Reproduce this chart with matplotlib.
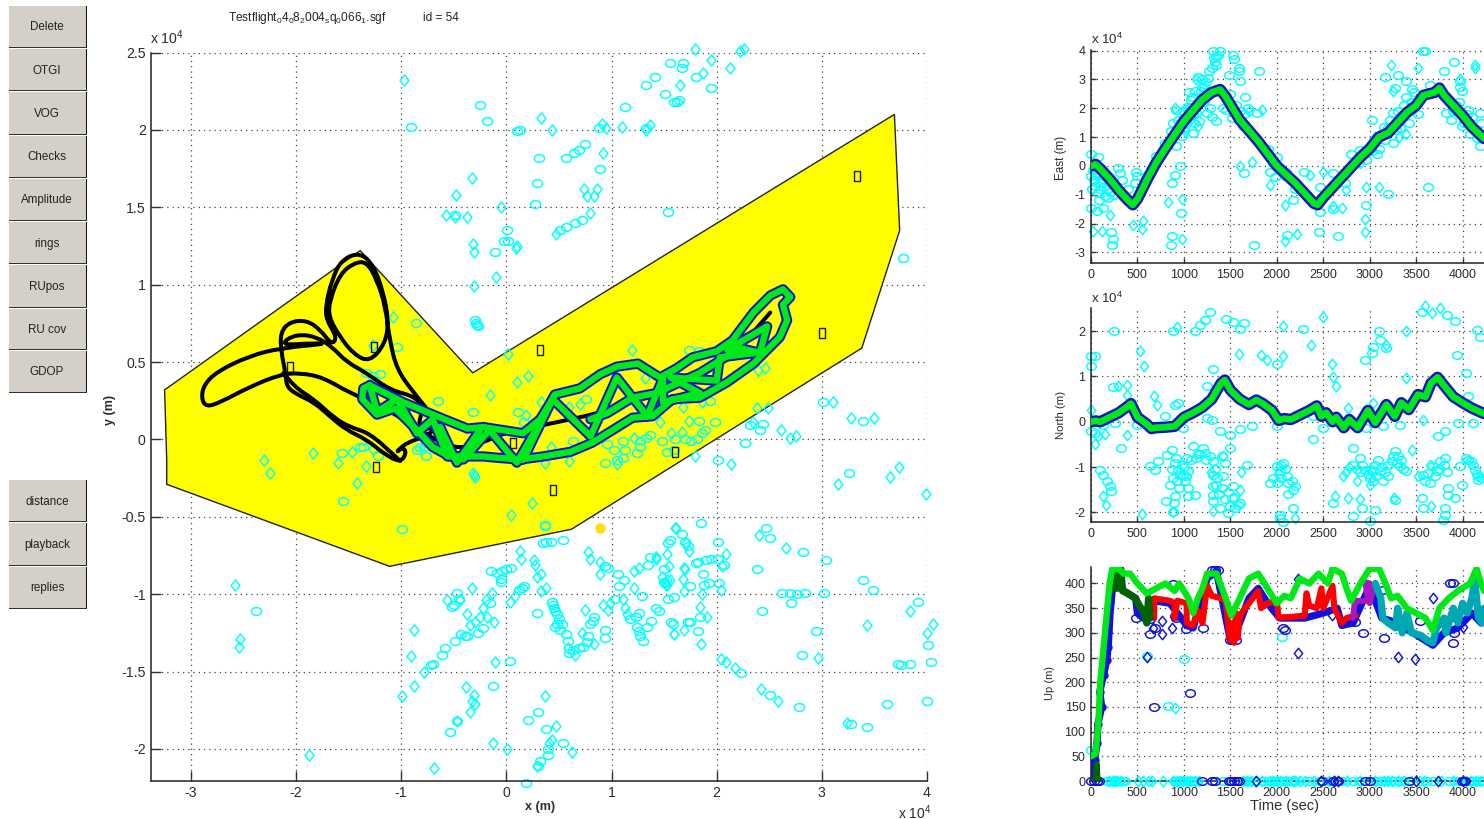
import matplotlib
matplotlib.use('Agg')
import matplotlib.pyplot as plt
from matplotlib.patches import Rectangle, Polygon, PathPatch
from matplotlib.path import Path

plt.rcParams['font.family'] = ['Liberation Sans', 'DejaVu Sans']
plt.rcParams['mathtext.fontset'] = 'custom'
plt.rcParams['mathtext.rm'] = 'Liberation Sans'
plt.rcParams['mathtext.it'] = 'Liberation Sans'
plt.rcParams['mathtext.bf'] = 'Liberation Sans:bold'

# ------------------------------------------------------------ text
title_file = r'Testflight$_{0}$4$_{0}$8$_{2}$004$_{s}$q$_{0}$066$_{1}$.sgf'
title_id = 'id = 54'
buttons_top = ['Delete', 'OTGI', 'VOG', 'Checks', 'Amplitude', 'rings', 'RUpos', 'RU cov', 'GDOP']
buttons_bottom = ['distance', 'playback', 'replies']

# ------------------------------------------------------------ map data (units of 1e4 m)
region_x = [-3.25, -1.39, -0.32, 3.69, 3.74, 3.38, 0.62, -1.11, -3.23, -3.23]
region_y = [0.32, 1.22, 0.43, 2.10, 1.35, 0.59, -0.58, -0.82, -0.29, -0.13]

ru_x = [3.33, 3.00, 0.32, -1.26, -2.06, -1.24, 0.44, 1.60, 0.06]
ru_y = [1.70, 0.69, 0.58, 0.60, 0.47, -0.18, -0.33, -0.08, -0.02]

target_x = [0.89]
target_y = [-0.57]

map_circles = [
    (-0.99,-0.58),(0.37,-0.55),(0.35,-0.67),(0.38,-0.66),(0.42,-0.66),(0.54,-0.65),(-0.15,-0.85),(-0.09,-0.86),
    (-0.04,-0.85),(0.0,-0.84),(0.04,-0.83),(-0.05,-0.90),(-0.05,-0.92),(0.12,-0.97),(0.15,-0.96),(0.17,-0.95),
    (-0.47,-0.99),(-0.45,-1.03),(-0.50,-1.07),(-0.52,-1.08),(-0.16,-1.06),(-0.22,-1.22),(-0.27,-1.25),(-0.37,-1.27),
    (-0.39,-1.27),(-0.43,-1.26),(-0.49,-1.30),(-0.58,-1.35),(-0.61,-1.39),(-0.70,-1.45),(-0.72,-1.46),(0.29,-1.12),
    (0.43,-1.05),(0.44,-1.07),(0.45,-1.09),(0.46,-1.11),(0.48,-1.13),(0.50,-1.16),(0.48,-1.19),(0.53,-1.19),
    (0.46,-1.21),(0.51,-1.23),(0.57,-1.26),(0.59,-1.30),(0.60,-1.38),(0.63,-1.36),(0.69,-1.35),(0.73,-1.34),
    (0.78,-1.27),(0.77,-1.31),(0.80,-1.19),(0.82,-1.17),(0.83,-1.15),(0.94,-1.23),(0.94,-1.28),(0.03,-1.43),
    (-0.13,-1.59),(0.30,-1.76),(0.21,-1.81),(0.38,-1.87),(-0.54,-1.89),(0.54,-1.96),(0.40,-2.0),(0.40,-2.04),
    (0.32,-2.08),(0.30,-2.11),(0.19,-2.22),(-0.47,-1.82),(0.94,-0.82),(0.97,-0.83),(1.06,-0.87),(1.07,-0.95),
    (1.12,-0.91),(1.29,-1.01),(1.03,-1.03),(1.35,-0.81),(1.37,-0.76),(1.54,-0.67),(1.56,-0.65),(1.67,-0.61),
    (1.70,-0.66),(1.73,-0.69),(1.18,-1.16),(1.23,-1.15),(1.26,-1.12),(1.24,-1.21),(1.26,-1.24),(1.27,-1.27),
    (1.30,-1.30),(1.34,-1.21),(1.38,-1.17),(1.42,-1.09),(1.45,-1.11),(1.57,-1.18),(1.58,-1.19),(1.50,-0.84),
    (1.50,-0.92),(1.51,-0.93),(1.54,-1.03),(1.59,-1.02),(1.73,-1.18),(1.85,-0.54),(2.47,-0.57),(2.51,-0.64),
    (2.82,-0.73),(3.04,-0.78),(2.01,-0.66),(2.38,-0.84),(1.80,-0.80),(1.82,-0.79),(1.90,-0.78),(1.95,-0.77),
    (2.01,-0.77),(2.07,-0.81),(1.87,-0.87),(1.75,-0.95),(1.88,-0.94),(1.93,-0.93),(2.02,-0.93),(2.62,-0.99),
    (2.70,-0.99),(2.76,-1.0),(2.84,-0.99),(3.02,-0.99),(2.71,-1.06),(2.43,-1.11),(3.39,-0.91),(3.49,-0.97),
    (3.91,-1.05),(2.94,-1.24),(2.81,-1.39),(3.72,-1.45),(3.75,-1.46),(3.84,-1.45),(4.04,-1.44),(4.01,-1.33),
    (4.0,-1.69),(3.62,-1.71),(3.28,-1.84),(3.43,-1.86),(2.51,-1.65),(2.78,-1.73),(2.23,-1.51),(1.84,-1.15),
    (1.75,-1.18),(1.82,-1.24),(-0.91,2.02),(-0.25,2.16),(-0.18,2.06),(0.10,1.99),(0.13,2.0),(0.31,1.82),
    (0.57,1.82),(0.64,1.85),(0.69,1.87),(0.75,1.91),(0.88,2.01),(0.89,1.75),(1.13,2.15),(0.29,1.66),
    (0.27,1.52),(-0.49,1.45),(0.01,1.35),(0.02,1.28),(-0.11,1.21),(0.51,1.35),(0.57,1.37),(0.65,1.40),
    (0.72,1.42),(1.33,2.01),(1.33,2.29),(1.41,2.34),(1.51,2.23),(1.56,2.43),(1.68,2.43),(1.67,2.40),
    (1.80,2.34),(1.95,2.27),(1.59,2.18),(1.62,2.18),(1.64,2.19),(1.54,1.47),(-2.38,-1.11),(-0.30,0.77),
    (-0.29,0.75),(-0.28,0.74),(-0.27,0.73),(-0.02,1.28),(-0.86,0.75),(-1.04,0.60),(-0.65,0.25),(-0.32,0.18),
    (0.11,0.18),(0.17,0.11),(-1.56,-0.09),(-1.39,-0.05),(-1.36,-0.05),(-1.22,-0.11),(-1.55,-0.40),(0.37,-0.56),
    (-0.82,-0.05),(-0.78,-0.05),(-0.76,-0.11),(-0.85,-0.07),(-0.76,-0.02),(-1.33,0.43),(-1.27,0.41),(-1.20,0.42),
    (1.74,0.58),(1.83,0.57),(1.83,0.12),(1.98,0.11),(1.89,0.06),(1.86,0.04),(2.32,0.09),(2.44,0.10),
    (2.41,0.06),(2.27,-0.02),(2.01,-0.13),(1.37,0.03),(1.33,0.01),(1.48,-0.01),(1.27,-0.01),(1.11,-0.01),
    (0.96,-0.03),(1.02,-0.07),(1.13,-0.07),(1.05,-0.13),(1.11,-0.12),(0.94,-0.15),(1.24,-0.09),(1.27,-0.05),
    (1.70,0.0),(1.76,-0.01),(1.81,0.0),(1.60,0.0),(1.53,-0.08),(1.59,-0.07),(1.94,0.25),(0.76,0.26),
    (0.63,-0.01),(3.01,0.24),(3.39,0.12),(3.26,-0.22),(3.77,1.17),
]
map_diamonds = [
    (0.13,-0.72),(0.14,-0.77),(0.26,-0.78),(0.27,-0.81),(0.29,-0.89),(0.33,-0.87),(0.38,-0.96),(0.33,-0.98),
    (-0.33,-0.96),(-0.14,-0.99),(-0.19,-1.04),(-0.22,-1.09),(-0.56,-1.04),(-0.44,-1.04),(0.03,-1.05),(0.08,-1.01),
    (-0.37,-1.13),(-0.18,-1.15),(-0.25,-1.15),(-0.30,-1.18),(-0.35,-1.20),(-0.12,-1.18),(-0.88,-1.23),(-0.91,-1.40),
    (-0.78,-1.50),(-0.88,-1.59),(-0.99,-1.66),(-0.38,-1.60),(-0.31,-1.65),(-0.33,-1.69),(-0.30,-1.71),(-0.35,-1.76),
    (-0.47,-1.82),(-0.11,-1.44),(-0.13,-1.96),(0.01,-2.0),(-0.69,-2.12),(0.37,-1.66),(0.47,-1.85),(0.43,-1.94),
    (0.41,-1.96),(0.62,-2.02),(0.29,-2.11),(0.75,-1.10),(0.78,-0.73),(0.80,-0.77),(0.89,-0.79),(0.89,-0.87),
    (0.92,-1.07),(0.99,-1.06),(0.97,-1.10),(1.11,-1.03),(1.13,-1.09),(1.15,-1.13),(1.21,-0.96),(1.21,-0.85),
    (1.26,-0.83),(1.42,-0.76),(1.53,-0.74),(1.60,-0.57),(1.69,-0.83),(1.68,-0.90),(1.53,-0.91),(1.53,-0.94),
    (1.59,-1.26),(1.69,-1.23),(0.72,-1.25),(0.83,-1.32),(0.59,-1.35),(0.65,-1.39),(1.69,-0.98),(1.61,-0.57),
    (2.40,-0.62),(2.66,-0.70),(1.71,-0.67),(1.74,-0.72),(2.09,-0.74),(2.05,-0.82),(1.42,-0.77),(1.55,-0.82),
    (1.70,-0.84),(1.48,-0.89),(1.56,-0.91),(1.52,-0.94),(2.04,-0.97),(1.86,-1.0),(1.84,-1.08),(1.91,-1.15),
    (3.84,-1.11),(4.06,-1.19),(4.0,-1.25),(3.43,-1.2),(1.59,-1.26),(1.85,-1.32),(2.04,-1.42),(2.09,-1.44),
    (2.17,-1.48),(2.96,-1.41),(2.42,-1.61),(2.58,-1.69),(3.24,-1.83),(-0.97,2.32),(0.33,2.08),(0.43,2.0),
    (0.91,2.04),(0.95,2.01),(1.10,2.02),(1.37,2.03),(1.33,2.0),(0.92,1.85),(-0.33,1.69),(-0.48,1.58),
    (-0.05,1.50),(-0.57,1.45),(-0.49,1.44),(-0.37,1.44),(0.74,1.62),(0.86,1.62),(0.77,1.57),(0.83,1.57),
    (0.80,1.46),(0.47,1.33),(-0.32,1.26),(-0.31,1.21),(0.09,1.24),(1.79,2.52),(1.95,2.45),(2.13,2.40),
    (2.22,2.51),(2.26,2.52),(1.87,2.37),(1.65,2.29),(-2.58,-0.94),(-2.53,-1.29),(-2.54,-1.34),(-1.88,-2.04),
    (-0.31,0.99),(-0.10,1.05),(0.10,1.25),(-1.08,0.79),(-1.27,0.61),(0.02,0.55),(0.10,0.37),(0.21,0.41),
    (-0.16,0.29),(0.19,0.16),(0.33,0.24),(-1.84,-0.09),(-2.30,-0.13),(-2.25,-0.22),(-1.42,-0.28),(-1.60,-0.15),
    (-1.33,-0.17),(-1.47,-0.08),(-1.27,-0.06),(-0.32,-0.22),(-0.31,-0.23),(-0.30,-0.24),(0.24,-0.41),(0.04,-0.49),
    (1.19,0.58),(1.74,0.12),(2.38,0.20),(2.49,0.20),(2.46,0.46),(2.39,0.45),(2.35,0.11),(2.61,0.06),
    (2.70,0.01),(2.75,0.02),(1.79,-0.11),(1.57,0.04),(1.67,0.05),(1.21,0.01),(1.05,-0.16),(1.46,0.11),
    (1.86,0.24),(1.68,0.21),(1.32,0.40),(0.60,-0.14),(0.37,-0.15),(0.42,-0.05),(0.70,0.23),(0.60,0.21),
    (2.14,-0.16),(3.11,0.24),(3.28,0.14),(3.50,0.14),(3.15,-0.29),(3.65,-0.24),(3.73,-0.18),(3.99,-0.35),
]

track_black_x = [-0.77,-0.88,-1.04,-1.11,-1.15,-1.23,-1.33,-1.45,-1.58,-1.68,-1.69,-1.58,-1.45,-1.30,-1.15,-1.12,-1.17,-1.26,-1.39,-1.57,-1.66,-1.72,-1.71,-1.61,-1.66,-1.77,-1.90,-2.06,-2.15,-2.14,-2.10,-2.09,-1.99,-1.83,-1.68,-1.52,-1.33,-1.17,-1.01,-0.95,-0.98,-1.06,-0.95,-0.76,-0.66,-0.85,-0.79,-0.88,-1.11,-1.33,-1.52,-1.66,-1.80,-1.96,-2.09,-2.12,-1.90,-1.68,-2.15,-2.44,-2.75,-2.88,-2.90,-2.85,-2.72,-2.44,-2.15,-1.96,-1.74,-1.49,-1.23,-0.98,-0.82,-0.63,-0.44,-0.22,-0.03,0.13,0.40,0.68,0.87,1.10,1.60,2.10,2.51]
track_black_y = [0.21,0.30,0.45,0.64,0.86,1.03,1.15,1.14,1.07,0.90,0.79,0.66,0.55,0.50,0.62,0.77,0.95,1.12,1.21,1.16,1.03,0.86,0.77,0.66,0.61,0.71,0.77,0.76,0.69,0.56,0.43,0.34,0.29,0.24,0.15,0.06,0.0,-0.09,-0.15,-0.09,-0.05,-0.09,-0.02,0.02,0.08,0.06,0.21,0.28,0.32,0.43,0.50,0.60,0.66,0.68,0.65,0.61,0.62,0.62,0.59,0.54,0.44,0.35,0.26,0.21,0.24,0.34,0.42,0.43,0.40,0.30,0.23,0.13,0.06,-0.02,-0.06,-0.02,0.04,0.06,0.10,0.14,0.17,0.22,0.33,0.50,0.82]
track_black2_x = [-2.12,-2.02,-1.83,-1.64,-1.49,-1.30,-1.07,-1.01]
track_black2_y = [0.43,0.34,0.26,0.14,0.08,0.04,-0.10,-0.14]

track_green_x = [-1.30,-0.98,-0.66,-0.37,-0.22,-0.03,0.16,0.32,0.42,0.46,0.70,0.89,1.05,1.25,1.46,1.62,1.77,2.0,2.15,2.35,2.51,2.63,2.70,2.63,2.67,2.60,2.35,2.10,1.84,1.58,1.39,1.20,1.01,0.82,0.61,0.35,0.13,-0.06,-0.22,-0.54,-0.70,-0.85,-1.06,-1.23,-1.37,-1.36,-1.30,-1.23,-1.04,-0.85,-0.70,-0.56,-0.63,-0.47,-0.25,-0.41,-0.16,0.10,0.32,0.16,0.44,0.80,1.05,1.34,1.49,1.49,1.84,1.56,2.0,2.03,2.38,2.10,2.48,2.41,2.22,2.03,1.84,1.43,1.20,0.96,0.80]
track_green_y = [0.35,0.24,0.15,0.07,0.08,0.06,0.04,0.13,0.24,0.29,0.33,0.42,0.47,0.49,0.40,0.46,0.53,0.57,0.64,0.82,0.93,0.97,0.92,0.87,0.77,0.66,0.49,0.37,0.27,0.26,0.15,0.14,0.06,-0.02,-0.08,-0.11,-0.13,-0.12,-0.11,-0.11,-0.05,0.06,0.20,0.16,0.26,0.33,0.35,0.18,0.26,0.04,0.13,-0.11,0.08,-0.15,0.06,-0.13,0.06,-0.15,0.11,-0.13,0.26,0.02,0.40,0.15,0.40,0.24,0.30,0.40,0.38,0.53,0.56,0.58,0.73,0.56,0.59,0.51,0.43,0.30,0.27,0.17,0.13]

# ------------------------------------------------------------ east panel (time s, east 1e4 m)
east_t = [0,50,100,200,300,400,450,500,600,700,800,1000,1200,1300,1390,1450,1600,1800,2000,2200,2400,2440,2500,2600,2700,2800,2900,3000,3100,3200,3300,3400,3500,3580,3700,3750,3800,4000,4100,4230]
east_v = [0,0.05,-0.1,-0.45,-0.85,-1.2,-1.35,-1.15,-0.5,0.1,0.6,1.55,2.3,2.55,2.65,2.4,1.6,0.85,0.0,-0.6,-1.3,-1.35,-1.1,-0.75,-0.4,-0.05,0.3,0.6,1.0,1.15,1.5,1.85,2.1,2.45,2.55,2.7,2.45,1.75,1.35,0.95]
east_circles = [
    (0,0.4),(80,0.3),(0,-0.35),(40,-0.7),(100,-0.6),(170,-0.8),(0,-1.45),(60,-1.55),(130,-1.45),(220,-2.3),(235,-2.55),(230,-2.75),
    (295,-0.07),(310,-0.25),(480,-0.2),(490,-0.35),(470,-0.6),(870,-2.42),(860,-2.75),(970,-1.65),(870,-0.6),(960,0.0),(900,-0.3),(705,0.33),
    (800,0.8),(940,1.25),(910,1.95),(940,1.6),(1050,2.55),(1030,2.05),(1135,1.85),(1100,1.15),(1155,3.1),(1200,3.0),(1210,2.3),(1315,3.98),
    (1385,4.0),(1350,3.8),(1300,3.4),(1350,3.5),(1350,1.55),(1525,3.85),(1540,3.7),(1590,3.4),(1590,3.3),(1605,2.95),(1490,3.15),(1810,3.3),
    (1660,2.4),(1515,1.65),(1455,1.95),(1640,1.4),(1690,2.0),(1785,1.85),(1650,-0.25),(1750,-2.75),(1925,-0.2),(1980,-0.4),(1960,0.1),(2090,-0.35),
    (2170,-1.2),(2105,-2.4),(2290,-0.2),(2450,-2.3),(2465,-1.6),(2465,-0.75),(2610,-0.25),(2610,-1.5),(2655,-2.45),(2730,-0.6),(2965,-1.35),(2960,0.2),
    (3020,1.6),(3200,-0.97),(3165,3.1),(3305,3.15),(3270,2.7),(3395,2.95),(3450,2.65),(3395,2.4),(3255,1.85),(3255,0.8),(3630,-0.75),(3575,4.0),
    (3595,3.97),(3800,3.3),(3910,3.6),(3825,1.85),(3970,2.95),(3975,2.75),(3990,2.6),(4185,1.85),(4080,1.1),(4185,0.7),(600,-0.3),(650,-0.1),
    (780,0.55),(850,0.9),(1000,1.3),(1100,1.8),(1150,2.2),(1250,2.55),(1700,1.25),(1900,0.6),(2100,-0.2),(2200,-0.8),(2850,0.2),(2900,0.55),
    (3050,0.9),(3150,1.35),(3350,1.75),(3450,1.95),(3650,2.8),(3850,2.3),(3900,1.9),(4050,1.8),(4150,1.2),(50,-0.3),(100,-0.8),(200,-0.9),
    (250,-1.0),(1080,2.3),(1120,2.6),(1240,2.9),(1280,2.0),(1420,2.0),(1600,1.9),(2000,0.3),(2800,0.4),(3100,0.6),(3200,1.3),(3300,1.9),
    (20,-0.15),(30,-0.5),(60,-0.25),(80,-0.95),(120,-0.45),(140,-0.75),(150,-1.05),(10,-0.8),(90,-1.2),(180,-1.1),(330,-0.5),(400,-0.8),
    (860,1.2),(880,1.5),(920,0.7),(980,1.05),(990,1.9),(1020,1.5),(1060,1.6),(1070,2.05),(1090,2.4),(1110,1.5),(1160,1.55),(1180,2.6),
    (1190,2.75),(1220,2.75),(1260,3.05),(1275,3.3),(1320,3.75),(1340,3.6),(1370,3.85),(1250,1.85),(1300,1.7),(1500,2.5),(1560,2.1),(1650,1.8),
    (3020,0.5),(3080,0.4),(3130,1.1),(3170,0.9),(3220,1.6),(3280,1.25),(3330,1.3),(3370,2.1),(3420,1.5),(3440,2.2),(3480,2.55),(3520,1.8),
    (3880,1.6),(3930,2.1),(3960,2.2),(3990,1.4),(4020,1.5),(4060,1.95),(4100,1.7),(4150,0.95),(4200,1.5),(4210,1.1),
]
east_diamonds = [
    (25,-2.25),(120,-2.25),(205,-1.7),(455,-2.05),(555,-1.9),(545,-2.2),(830,-1.25),(975,-1.15),(975,-2.55),(1845,1.95),(1735,0.15),(1600,0.0),
    (1925,-0.65),(2090,-1.35),(2215,-2.35),(2090,-2.6),(2355,-0.3),(2495,-0.2),(2700,-1.45),(2950,-1.85),(2950,-2.3),(3100,-0.75),(2965,-0.75),(3230,3.5),
    (3255,2.6),(3515,3.4),(4130,3.5),(4130,3.4),(3970,3.0),(3395,1.1),(1130,3.0),(1030,1.95),(900,2.0),(2750,-0.85),(2600,-1.4),(3280,1.6),
    (1010,1.2),(1150,1.4),(1230,2.2),(2900,0.1),(3060,1.0),(3320,1.0),(1700,1.9),(1880,0.4),
]

# ------------------------------------------------------------ north panel (time s, north 1e4 m)
north_t = [0,50,100,200,300,400,430,500,600,650,700,800,900,1000,1100,1200,1300,1400,1440,1500,1600,1700,1780,1850,1950,2020,2080,2150,2250,2350,2430,2480,2530,2600,2640,2720,2780,2870,2980,3060,3180,3270,3340,3420,3520,3600,3660,3730,3800,3900,4000,4100,4230]
north_v = [0,0.02,0.0,0.1,0.2,0.35,0.4,0.1,-0.05,-0.15,-0.13,-0.12,-0.1,0.1,0.2,0.32,0.5,0.85,0.92,0.7,0.5,0.38,0.48,0.4,0.25,0.03,0.07,0.05,0.15,0.25,0.35,0.12,0.2,0.0,0.1,-0.13,0.05,-0.13,0.25,-0.02,0.38,0.12,0.42,0.27,0.6,0.55,0.85,0.98,0.8,0.55,0.42,0.3,0.18]
north_circles = [
    (250,2.0),(885,2.0),(1120,2.0),(1175,2.13),(1225,2.25),(1280,2.41),(1450,2.27),(1525,2.19),(1605,2.05),(1645,2.17),(2285,2.05),(0,1.46),
    (45,1.46),(5,1.22),(240,0.76),(1310,1.17),(2000,1.27),(2950,1.37),(3020,1.51),(3040,1.66),(3100,2.0),(3110,1.8),(3180,1.62),(3935,1.48),
    (3560,2.41),(3830,2.36),(3915,2.22),(4150,2.03),(4185,1.88),(4035,1.07),(4060,0.56),(320,-0.58),(2390,-0.38),(1245,0.78),(95,-1.06),(130,-1.17),
    (170,-1.31),(205,-1.42),(220,-1.53),(635,-0.98),(690,-1.06),(725,-0.87),(815,-0.73),(870,-0.62),(920,-0.80),(975,-0.95),(960,-1.17),(885,-1.24),
    (850,-1.39),(1010,-1.31),(1045,-1.46),(1045,-1.64),(1120,-1.61),(805,-1.74),(905,-1.64),(895,-1.79),(885,-2.0),(1030,-0.8),(1100,-0.54),(1210,-0.58),
    (1225,-0.69),(1280,-0.76),(1135,-0.8),(1315,-0.87),(1415,-0.76),(990,-1.17),(940,-1.06),(1045,-1.09),(1315,-1.17),(1315,-1.42),(1315,-1.61),(1350,-1.39),
    (1405,-1.46),(1530,-1.42),(1515,-1.68),(1495,-1.86),(1480,-2.01),(1605,-1.79),(1585,-1.83),(1315,-1.75),(1390,-1.9),(2000,-0.98),(2070,-0.91),(2035,-1.09),
    (1960,-1.24),(2105,-1.2),(2160,-1.31),(2195,-1.42),(2125,-1.59),(2175,-1.9),(1925,-1.35),(2035,-2.12),(2070,-2.21),(2035,-2.05),(1675,-0.95),(2825,-0.95),
    (2895,-0.8),(2950,-1.06),(3000,-1.24),(3040,-1.31),(3090,-0.84),(3110,-1.09),(3145,-1.31),(3040,-1.09),(3235,-0.87),(3270,-0.65),(3305,-0.76),(3325,-0.98),
    (3395,-1.09),(2825,-0.57),(2825,-2.08),(2915,-1.9),(3055,-1.94),(3000,-2.19),(2610,-1.79),(3270,-1.72),(3575,-1.17),(3630,-1.13),(3685,-0.98),(3755,-0.87),
    (3810,-0.8),(3720,-1.09),(3560,-1.68),(3575,-1.9),(3810,-1.9),(3810,-2.05),(3790,-2.16),(3845,-1.46),(3845,-1.61),(3915,-1.68),(3990,-1.39),(3970,-0.98),
    (4040,-0.8),(4095,-0.87),(4130,-1.06),(4170,-1.2),(4170,-1.28),(3810,-0.21),(3735,-0.32),(0,-0.21),(40,-0.25),(130,-0.07),(260,-0.03),(490,-0.07),
    (795,0.12),(905,0.37),(940,0.41),(990,-0.14),(1245,0.08),(1300,0.04),(1390,-0.21),(1495,-0.29),(1605,-0.15),(1730,-0.1),(2000,-0.1),(2390,0.12),
    (2500,-0.14),(2965,-0.14),(3145,-0.1),(3325,-0.07),(3955,-0.03),(4115,-0.03),(1500,-0.58),(1420,-1.2),(1440,-0.9),(1150,-0.7),(2900,-1.1),(3200,-1.2),
    (870,-1.05),(900,-0.9),(930,-1.3),(950,-1.45),(1000,-1.0),(1025,-1.2),(1080,-0.85),(1170,-0.72),(1240,-0.85),(1340,-1.05),(1360,-1.25),(1380,-1.6),
    (1440,-1.7),(1470,-1.55),(1540,-1.65),(1550,-1.9),(2020,-1.15),(2050,-0.95),(2090,-1.05),(2120,-1.35),(2000,-1.35),(2170,-1.5),(2050,-1.25),(2860,-1.05),
    (2920,-0.95),(2980,-1.15),(3010,-1.05),(3060,-0.95),(3070,-1.2),(3130,-1.0),(3170,-1.1),(3200,-0.95),(3250,-0.75),(3290,-0.9),(3340,-0.85),(3360,-1.05),
    (3600,-1.3),(3650,-1.35),(3700,-1.2),(3750,-1.05),(3800,-0.95),(3830,-1.1),(4060,-0.85),(4110,-0.95),(4150,-1.15),(4200,-1.25),
]
north_diamonds = [
    (525,1.57),(570,1.23),(930,2.08),(1590,1.49),(2070,2.12),(2500,2.32),(2365,1.7),(2590,1.27),(2610,0.98),(2635,0.78),(1835,1.48),(1890,1.37),
    (2070,1.44),(680,0.56),(715,0.36),(390,0.81),(295,0.78),(390,0.59),(390,-0.29),(5,0.26),(70,-0.32),(45,-0.49),(150,-0.26),(3395,2.01),
    (3395,0.96),(3575,0.04),(3590,2.56),(3675,2.39),(3755,2.5),(550,-2.03),(130,-1.64),(160,-1.83),(885,-1.99),(1315,-1.97),(3260,-1.68),(3180,1.7),
    (2625,-1.64),(2770,-1.68),(2715,-1.2),(3520,-1.2),(3665,-1.86),(3450,-0.62),(1425,-0.76),(2195,-2.12),(2770,0.3),(3040,0.41),(2900,-1.7),(1600,-1.5),
    (2780,-1.0),(2860,-1.3),(2740,-1.1),(3000,-1.4),(3650,-0.95),(1290,-1.1),(1620,-1.1),
]

# ------------------------------------------------------------ up panel (time s, up m)
up_track_t = [0,40,65,75,115,95,135,170,185,205,250,350,480,500,560,680,850,1030,1100,1250,1350,1500,1600,1700,1800,1900,2030,2300,2500,2650,2700,2820,3000,3130,3300,3680,3800,3950,4100,4200,4230]
up_track_v = [0,43,76,116,150,181,215,245,272,339,430,385,370,340,330,365,360,315,310,410,425,285,320,370,390,360,330,330,340,350,315,320,395,330,320,275,300,310,340,320,340]
up_rise_t = [20,40,65,75,115,95,135,170,185,185,185,205]
up_rise_v = [20,43,76,116,150,181,215,245,272,302,339,363]
up_top_t = [0,50,80,100,150,200,230,300,350,420,500,600,700,800,900,950,1050,1100,1150,1200,1250,1350,1450,1510,1600,1700,1800,1900,2000,2080,2150,2250,2350,2450,2550,2600,2700,2750,2800,2900,3000,3100,3170,3230,3300,3400,3500,3600,3680,3750,3850,3950,4080,4150,4200,4230]
up_top_v = [50,55,120,200,300,400,430,430,420,420,400,380,390,400,385,400,370,340,370,390,420,420,370,335,370,410,420,390,360,375,370,410,400,420,400,430,420,390,365,400,430,430,400,370,375,350,340,330,305,350,370,385,400,430,400,385]
up_red_t = [680,680,850,900,900,930,1030,1030,1100,1150,1200,1250,1300,1400,1450,1480,1500,1520,1540,1560,1580,1600,1620,1700,1800,1830,1900,2000,2020,2300,2320,2350,2430,2480,2500,2600,2620,2700,2750,2850]
up_red_v = [330,370,365,360,330,365,360,320,315,345,320,395,375,370,365,310,285,320,280,340,290,330,340,360,385,350,360,365,330,335,380,355,350,390,350,395,350,320,330,335]
up_dark_t = [0,50,60,70,90]
up_dark_v = [0,0,35,5,0]
up_dark2_t = [205,250,280,320,340,400,480,520,560,600,620,635]
up_dark2_v = [385,430,390,430,385,380,370,355,345,320,370,330]
up_purple_t = [2820,2840,2985,2950,3000,3000,3050]
up_purple_v = [330,365,365,403,400,360,395]
up_teal_t = [3060,3120,3140,3200,3280,3300,3350,3400,3450,3550,3620,3680,3720,3800,3820,3900,3950,4000,4050,4100,4130,4170,4210,4230]
up_teal_v = [400,370,330,320,310,350,300,340,300,295,285,280,310,330,300,350,320,360,340,370,410,330,320,350]
up_blue_circles = [(635,329),(630,297),(690,309),(680,150),(1065,179),(915,331),(1020,307),(1210,309),(2070,309),(2090,306),(2930,300),(2840,321),(3155,289),(3900,280),(3905,300),(3865,400),(3900,400),(1335,427),(1300,427),(1370,427),(880,399),(3000,380),(3145,386),(3540,324),(3900,333),(1565,285),(1495,285),(4200,326),(480,330),(900,335)]
up_blue_diamonds = [(605,252),(760,324),(760,297),(875,309),(2230,260),(2230,410),(2590,336),(3305,251),(3490,248),(3685,370),(4000,312),(670,309)]
up_cyan_circles = [(2060,291),(1000,248),(600,253),(0,63),(830,152)]
up_cyan_diamonds = [(905,147)]
zero_cyan_circle_t = [170,210,250,300,340,370,900,920,950,1000,1050,1100,1130,1300,1420,1650,1700,1780,1850,1900,1980,2060,2110,2150,2200,2350,2450,2540,2700,2820,2880,3000,3070,3120,3180,3260,3330,3620,3680,3850,3950,4070,4100,4180,4230]
zero_cyan_diamond_t = [190,240,260,280,320,510,560,620,660,780,880,930,960,990,1030,1070,1120,1160,1640,1680,1720,1760,1840,1930,1960,2000,2030,2100,2170,2200,2250,2300,2400,2480,2560,2620,2760,2900,3060,3150,3200,3240,3300,3370,3440,3540,3580,3770,3900,4040,4090,4140,4200]
zero_blue_circle_t = [0,30,60,90,1190,1300,1330,1490,1510,1540,1570,1590,2490,2600,2660,2950,3000,3420,3990,4010,4030]
zero_blue_diamond_t = [1780,2480,2620,2660,3500,3730,4000]

# ------------------------------------------------------------ layout helpers
W, H = 1484, 819
fig = plt.figure(figsize=(W/100, H/100), dpi=100, facecolor='white')

def ax_px(left, top, right, bottom):
    return fig.add_axes([left/W, 1-bottom/H, (right-left)/W, (bottom-top)/H])

TC = '#2c2c2c'
CYAN = '#00ffff'
BLUE = '#1010d8'
unit = Path.unit_circle()
ELLIPSE = Path(unit.vertices*[1.0, 0.78], unit.codes)
DIAMOND = Path([(0,1),(0.8,0),(0,-1),(-0.8,0),(0,1)], closed=True)
TALL = Path([(-0.62,-1),(0.62,-1),(0.62,1),(-0.62,1),(-0.62,-1)], closed=True)

def style(ax, xt, yt, xl, yl, fs, ticklen, pad):
    for s in ('top', 'right'):
        ax.spines[s].set_visible(False)
    for s in ('left', 'bottom'):
        ax.spines[s].set_color('#222222')
        ax.spines[s].set_linewidth(1.1)
    ax.set_xticks(xt)
    ax.set_xticklabels(xl)
    ax.set_yticks(yt)
    ax.set_yticklabels(yl)
    ax.tick_params(direction='in', length=ticklen, width=1.0, color='#333333', labelsize=fs,
                   labelcolor=TC, pad=pad)
    ax.grid(True, color='#444444', linestyle=(0, (1, 3.2)), linewidth=0.9)
    ax.set_axisbelow(True)
    ax.patch.set_alpha(0)

def mark(ax, pts, marker, color, ms, z=2, mew=1.05):
    ax.plot([p[0] for p in pts], [p[1] for p in pts], ls='none', marker=marker, mfc='none',
            mec=color, mew=mew, ms=ms, zorder=z, clip_on=False)

def line(ax, x, y, color, lw, z):
    ax.plot(x, y, color=color, lw=lw, zorder=z, solid_joinstyle='round', solid_capstyle='round')

def curve(ax, x, y, color, lw, z):
    # the listed vertices act as quadratic control points, so the drawn stroke has round turns
    pts = list(zip(x, y))
    verts = [pts[0]]
    codes = [Path.MOVETO]
    for i in range(1, len(pts)-1):
        mid = ((pts[i][0]+pts[i+1][0])/2, (pts[i][1]+pts[i+1][1])/2)
        verts += [pts[i], mid]
        codes += [Path.CURVE3, Path.CURVE3]
    verts.append(pts[-1])
    codes.append(Path.LINETO)
    ax.add_patch(PathPatch(Path(verts, codes), facecolor='none', edgecolor=color, lw=lw, zorder=z,
                           joinstyle='round', capstyle='round'))

# ------------------------------------------------------------ buttons
def button(top, bottom, label):
    fig.add_artist(Rectangle((9/W, 1-bottom/H), 77/W, (bottom-top)/H, transform=fig.transFigure,
                             facecolor='#d4d0c8', edgecolor='none'))
    fig.add_artist(Rectangle((86/W, 1-bottom/H), 1.2/W, (bottom-top)/H, transform=fig.transFigure,
                             facecolor='#101010', edgecolor='none'))
    fig.add_artist(Rectangle((9/W, 1-bottom/H), 78/W, 1.2/H, transform=fig.transFigure,
                             facecolor='#303030', edgecolor='none'))
    fig.text(47/W, 1-((top+bottom)/2+0.5)/H, label, ha='center', va='center', fontsize=8.4, color='#222222')

tops = [6, 49, 92, 136, 179, 222, 265, 309, 351, 394]
for i, lab in enumerate(buttons_top):
    button(tops[i], tops[i+1]-1, lab)
tops2 = [480, 523, 567, 610]
for i, lab in enumerate(buttons_bottom):
    button(tops2[i], tops2[i+1]-1, lab)

# ------------------------------------------------------------ map
ax = ax_px(150.5, 52.5, 927, 781)
ax.set_xlim(-3.384, 4.0)
ax.set_ylim(-2.207, 2.5)
style(ax, [-3,-2,-1,0,1,2,3,4], [-2,-1.5,-1,-0.5,0,0.5,1,1.5,2,2.5],
      ['-3','-2','-1','0','1','2','3','4'], ['-2','-1.5','-1','-0.5','0','0.5','1','1.5','2','2.5'],
      10.2, 7.5, 3.5)
ax.add_patch(Polygon(list(zip(region_x, region_y)), closed=True, facecolor='#ffff00',
                     edgecolor='#222222', lw=1.0, zorder=1))
mark(ax, map_circles, ELLIPSE, CYAN, 7.2)
mark(ax, map_diamonds, DIAMOND, CYAN, 8.0)
ax.plot(ru_x, ru_y, ls='none', marker=TALL, mfc='none', mec='#1a1a00', mew=1.0, ms=6.5, zorder=3)
ax.plot(target_x, target_y, ls='none', marker='o', color='#ffe000', ms=6.5, zorder=3)
curve(ax, track_black_x, track_black_y, '#000000', 2.9, 4)
curve(ax, track_black2_x, track_black2_y, '#000000', 2.9, 4)
line(ax, track_green_x, track_green_y, '#1010d0', 7.4, 5)
line(ax, track_green_x, track_green_y, '#00e818', 4.6, 6)
ax.set_xlabel('x (m)', fontsize=9, fontweight='bold', color=TC)
ax.xaxis.set_label_coords((540-150.5)/(927-150.5), -(807-781)/(781-52.5), transform=ax.transAxes)
ax.xaxis.label.set_va('center')
ax.set_ylabel('y (m)', fontsize=9, fontweight='bold', color=TC)
ax.yaxis.set_label_coords((110-150.5)/(927-150.5), (781-410)/(781-52.5), transform=ax.transAxes)
ax.yaxis.label.set_va('center')

def sci(px, py, fs=9.6):
    fig.text(px/W, 1-py/H, r'x 10$^{4}$', ha='center', va='center', fontsize=fs, color=TC)

sci(167, 38, 10.2)
sci(915, 812.5, 10)
fig.text(228/W, 1-18/H, title_file, ha='left', va='center', fontsize=8.6, color='#222222')
fig.text(423/W, 1-18/H, title_id, ha='left', va='center', fontsize=8.6, color='#222222')

# ------------------------------------------------------------ side panels
time_ticks = [0,500,1000,1500,2000,2500,3000,3500,4000]
time_labels = [str(t) for t in time_ticks]
XR = (1484-1091)/0.0929

ax_e = ax_px(1091, 50, 1484, 263.3)
ax_e.set_xlim(0, XR)
ax_e.set_ylim(-3.38, 4.02)
style(ax_e, time_ticks, [-3,-2,-1,0,1,2,3,4], time_labels, ['-3','-2','-1','0','1','2','3','4'], 9, 3.5, 4)
mark(ax_e, east_circles, ELLIPSE, CYAN, 7)
mark(ax_e, east_diamonds, DIAMOND, CYAN, 7.5)
line(ax_e, east_t, east_v, '#1010c8', 8.2, 5)
line(ax_e, east_t, east_v, '#00e818', 4.8, 6)
ax_e.set_ylabel('East (m)', fontsize=8.4, color=TC)
ax_e.yaxis.set_label_coords((1061-1091)/393, (263.3-158)/213.3, transform=ax_e.transAxes)
ax_e.yaxis.label.set_va('center')
sci(1107, 39)

ax_n = ax_px(1091, 307.5, 1484, 522)
ax_n.set_xlim(0, XR)
ax_n.set_ylim(-2.21, 2.52)
style(ax_n, time_ticks, [-2,-1,0,1,2], time_labels, ['-2','-1','0','1','2'], 9, 3.5, 4)
mark(ax_n, north_circles, ELLIPSE, CYAN, 7)
mark(ax_n, north_diamonds, DIAMOND, CYAN, 7.5)
line(ax_n, north_t, north_v, '#1010c8', 8.2, 5)
line(ax_n, north_t, north_v, '#00e818', 4.8, 6)
ax_n.set_ylabel('North (m)', fontsize=8.2, color=TC)
ax_n.yaxis.set_label_coords((1061-1091)/393, (522-415)/214.5, transform=ax_n.transAxes)
ax_n.yaxis.label.set_va('center')
sci(1107, 298)

ax_u = ax_px(1091, 566.7, 1484, 781)
ax_u.set_xlim(0, XR)
ax_u.set_ylim(0, 434)
up_ticks = [0,50,100,150,200,250,300,350,400]
style(ax_u, time_ticks, up_ticks, time_labels, [str(v) for v in up_ticks], 9, 3.5, 4)
mark(ax_u, up_cyan_circles, ELLIPSE, CYAN, 7)
mark(ax_u, up_cyan_diamonds, DIAMOND, CYAN, 7.5)
mark(ax_u, [(t, 0) for t in zero_cyan_circle_t], ELLIPSE, CYAN, 7, z=3)
mark(ax_u, [(t, 0) for t in zero_cyan_diamond_t], DIAMOND, CYAN, 7.5, z=3)
mark(ax_u, [(t, 0) for t in zero_blue_circle_t], ELLIPSE, BLUE, 7, z=4)
mark(ax_u, [(t, 0) for t in zero_blue_diamond_t], DIAMOND, BLUE, 7.5, z=4)
mark(ax_u, up_blue_circles, ELLIPSE, BLUE, 7, z=4)
mark(ax_u, up_blue_diamonds, DIAMOND, BLUE, 7.5, z=4)
ax_u.plot(up_track_t, up_track_v, color='#1010e0', lw=5.2, zorder=5, solid_joinstyle='round')
ax_u.plot(up_rise_t, up_rise_v, ls='none', marker='o', color='#1010e0', ms=5, zorder=5)
line(ax_u, up_red_t, up_red_v, '#ff0000', 4.4, 6)
line(ax_u, up_dark_t, up_dark_v, '#006400', 4.4, 7)
line(ax_u, up_dark2_t, up_dark2_v, '#006400', 5.2, 6)
line(ax_u, up_purple_t, up_purple_v, '#a818c0', 4.2, 6)
line(ax_u, up_teal_t, up_teal_v, '#00a8b4', 5.2, 6)
line(ax_u, up_top_t, up_top_v, '#00e818', 4.6, 8)
ax_u.set_ylabel('Up (m)', fontsize=8, color=TC)
ax_u.yaxis.set_label_coords((1050-1091)/393, (781-683)/214.3, transform=ax_u.transAxes)
ax_u.yaxis.label.set_va('center')
ax_u.set_xlabel('Time (sec)', fontsize=10.5, color=TC)
ax_u.xaxis.set_label_coords((1284-1091)/393, -(806-781)/214.3, transform=ax_u.transAxes)
ax_u.xaxis.label.set_va('center')

fig.savefig('out.png', dpi=100)
